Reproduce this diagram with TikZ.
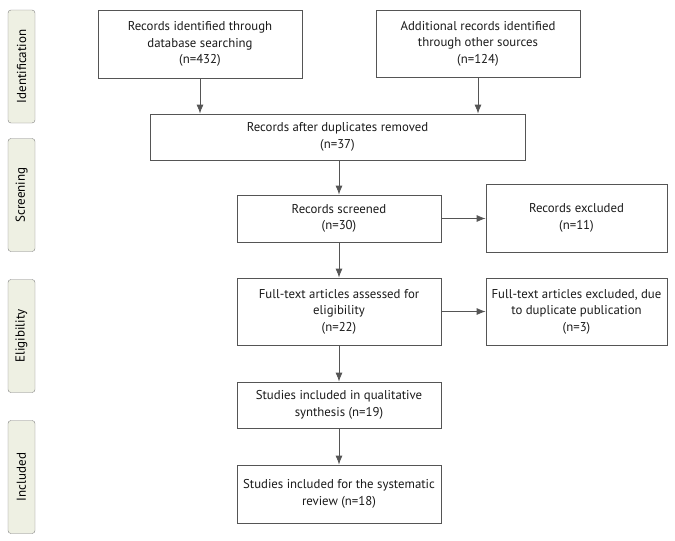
\documentclass[tikz,border=0pt]{standalone}
\usepackage{fontspec}
\setmainfont{PT Sans}
\usepackage{tikz}
\usetikzlibrary{positioning,arrows.meta}
\usepackage{xcolor}
\definecolor{phasefill}{HTML}{EEF0E3}
\definecolor{linegray}{HTML}{555555}
\definecolor{textgray}{HTML}{1A1A1A}
\tikzstyle{box}=[draw=linegray,line width=0.8pt,align=center,inner sep=2pt,
  text=textgray,font=\fontsize{12.8}{16.5}\selectfont]
\tikzstyle{phase}=[draw=gray,fill=phasefill,rounded corners=3pt,rotate=90,
  minimum width=113pt,minimum height=27pt,inner sep=0pt,text=black,
  font=\fontsize{13}{15}\selectfont]
\tikzstyle{flow}=[-{Latex[length=9pt,width=7pt]},linegray,line width=0.8pt]

\begin{document}
\begin{tikzpicture}[x=1pt,y=-1pt]
      \useasboundingbox (0,0) rectangle (675,541);

      % PHASES
      \node[phase] (ident) at (21.5,66.5) {Identification};
      \node[phase] (screen) at (21.5,195) {Screening};
      \node[phase] (elig) at (21.5,336) {Eligibility};
      \node[phase] (incl) at (21.5,477) {Included};

      % BOXES
      \node[box,minimum width=204pt,minimum height=68pt] (db) at (200,44)
        {Records identified through\\database searching\\(n=432)};
      \node[box,minimum width=204pt,minimum height=67pt] (other) at (478,43.5)
        {Additional records identified\\through other sources\\(n=124)};
      \node[box,minimum width=375pt,minimum height=46pt] (dedup) at (337.5,137)
        {Records after duplicates removed\\(n=37)};
      \node[box,minimum width=204pt,minimum height=47pt] (screened) at (339,218.5)
        {Records screened\\(n=30)};
      \node[box,minimum width=181pt,minimum height=68pt] (excl) at (576.5,218)
        {Records excluded\\(n=11)};
      \node[box,minimum width=204pt,minimum height=67pt] (full) at (339,311.5)
        {Full-text articles assessed for\\eligibility\\(n=22)};
      \node[box,minimum width=181pt,minimum height=67pt] (fullexcl) at (576.5,311.5)
        {Full-text articles excluded, due\\to duplicate publication\\(n=3)};
      \node[box,minimum width=204pt,minimum height=46pt] (qual) at (339,405)
        {Studies included in qualitative\\synthesis (n=19)};
      \node[box,minimum width=204pt,minimum height=58pt] (syst) at (339,494)
        {Studies included for the systematic\\review (n=18)};

      % ARROWS
      \draw[flow] (db.south) -- (db.south |- dedup.north);
      \draw[flow] (other.south) -- (other.south |- dedup.north);
      \draw[flow] (dedup.south -| screened.north) -- (screened.north);
      \draw[flow] (screened.east) -- (screened.east -| excl.west);
      \draw[flow] (screened.south) -- (full.north);
      \draw[flow] (full.east) -- (fullexcl.west);
      \draw[flow] (full.south) -- (qual.north);
      \draw[flow] (qual.south) -- (syst.north);

    \end{tikzpicture}
\end{document}
